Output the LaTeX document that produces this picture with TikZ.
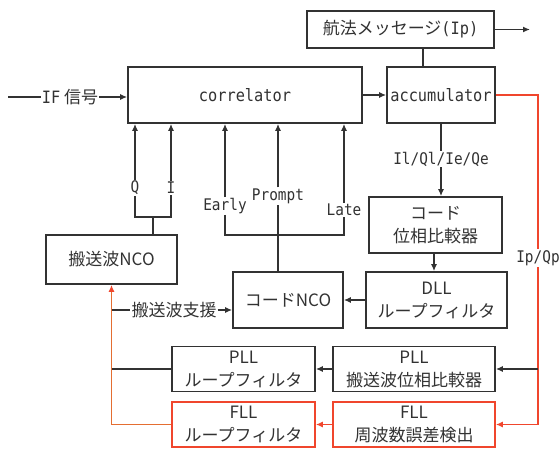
\documentclass[tikz,border=0pt]{standalone}
\usepackage{fontspec}
\setmainfont{Noto Sans CJK JP}
\newfontfamily\lat[FakeStretch=0.9]{DejaVu Sans Mono}
\usetikzlibrary{arrows.meta}
\definecolor{ink}{RGB}{50,50,50}
\definecolor{redc}{RGB}{240,70,45}
\definecolor{orc}{RGB}{228,110,50}
\begin{document}
\begin{tikzpicture}[x=1pt,y=-1pt,
  box/.style={draw=ink, line width=1.6pt, fill=white, inner sep=0pt, align=center, text=ink,
    font=\fontsize{17}{23}\selectfont},
  rbox/.style={box, draw=redc},
  lbl/.style={text=ink, inner sep=1pt, font=\lat\fontsize{16}{19}\selectfont},
  txt/.style={text=ink, inner sep=1pt, font=\fontsize{17}{20}\selectfont},
  conn/.style={line width=1.6pt, ink},
  arr/.style={conn, -{Latex[length=7pt,width=6pt]}}]
\useasboundingbox (0,0) rectangle (560,450);
\fill[white] (0,0) rectangle (560,450);

% boxes
\node[box, minimum width=187pt, minimum height=37pt] (nav) at (400.5,29.5) {航法メッセージ{\lat(Ip)}};
\node[box, minimum width=108pt, minimum height=56pt] (acc) at (441,95) {\lat accumulator};
\node[box, minimum width=234pt, minimum height=56pt] (corr) at (245,95) {\lat correlator};
\node[box, minimum width=133pt, minimum height=56pt] (cmp) at (435.5,225) {コード\\位相比較器};
\node[box, minimum width=141pt, minimum height=56pt] (dll) at (436.5,300) {DLL\\ループフィルタ};
\node[box, minimum width=110pt, minimum height=56pt] (cnco) at (288,300) {コードNCO};
\node[box, minimum width=131pt, minimum height=49pt] (nco) at (111.5,259.5) {搬送波NCO};
\node[box, minimum width=143pt, minimum height=45pt] (pllf) at (243.5,369) {PLL\\ループフィルタ};
\node[box, minimum width=162pt, minimum height=45pt] (pllc) at (414,369) {PLL\\搬送波位相比較器};
\node[rbox, minimum width=143pt, minimum height=45pt] (fllf) at (243.5,424.5) {FLL\\ループフィルタ};
\node[rbox, minimum width=162pt, minimum height=45pt] (fllc) at (414,424.5) {FLL\\周波数誤差検出};

% labels
\node[lbl] (Q) at (135,188) {Q};
\node[lbl] (I) at (171,188) {I};
\node[lbl] (E) at (225,206) {Early};
\node[lbl] (P) at (278,196) {Prompt};
\node[lbl] (L) at (344,210) {Late};
\node[lbl] (iq) at (441,159) {Il/Ql/Ie/Qe};
\node[txt] (if) at (70,97) {{\lat IF} 信号};
\node[txt] (sup) at (174,310) {搬送波支援};

% helper coordinates
\coordinate (xn) at (153,0);
\coordinate (yqi) at (0,217);
\coordinate (yb) at (0,235);
\coordinate (xp) at (278,0);
\coordinate (xa) at (423,0);
\coordinate (xcmp) at (434,0);
\coordinate (xr) at (538,0);
\coordinate (navout) at (530,29.5);
\coordinate (ifs) at (8,97);

% top
\draw[conn] (xa |- acc.north) -- (xa |- nav.south);
\draw[arr] (nav.east) -- (navout);
\draw[conn] (ifs) -- (if.west);
\draw[arr] (if.east) -- (if.east -| corr.west);
\draw[arr] (corr.east) -- (acc.west);

% Q / I
\draw[conn] (xn |- nco.north) -- (xn |- yqi);
\draw[conn] (Q.south) -- (Q.south |- yqi) -- (I.south |- yqi) -- (I.south);
\draw[arr] (Q.north) -- (Q.north |- corr.south);
\draw[arr] (I.north) -- (I.north |- corr.south);

% Early / Prompt / Late
\draw[conn] (E.south) -- (E.south |- yb) -- (L.south |- yb) -- (L.south);
\draw[arr] (E.north) -- (E.north |- corr.south);
\draw[arr] (L.north) -- (L.north |- corr.south);
\draw[conn] (xp |- cnco.north) -- (P.south);
\draw[arr] (P.north) -- (P.north |- corr.south);

% DLL chain
\draw[conn] (acc.south -| iq) -- (iq.north);
\draw[arr] (iq.south) -- (iq.south |- cmp.north);
\draw[arr] (xcmp |- cmp.south) -- (xcmp |- dll.north);
\draw[arr] (dll.west) -- (cnco.east);

% Ip/Qp feedback
\draw[arr, redc] (acc.east) -| (xr |- fllc.east) -- (fllc.east);
\node[lbl, fill=white] (ipq) at (538,258) {Ip/Qp};
\draw[arr] (xr |- pllc.east) -- (pllc.east);
\draw[arr] (pllc.west) -- (pllf.east);
\draw[arr, redc] (fllc.west) -- (fllf.east);

% carrier loop back
\draw[conn, orc, -{Latex[length=7pt,width=6pt,color=redc]}] (fllf.west) -| (nco.south);
\draw[conn] (pllf.west) -- (pllf.west -| nco.south);
\draw[conn] (nco.south |- sup.west) -- (sup.west);
\draw[arr] (sup.east) -- (sup.east -| cnco.west);
\end{tikzpicture}
\end{document}
